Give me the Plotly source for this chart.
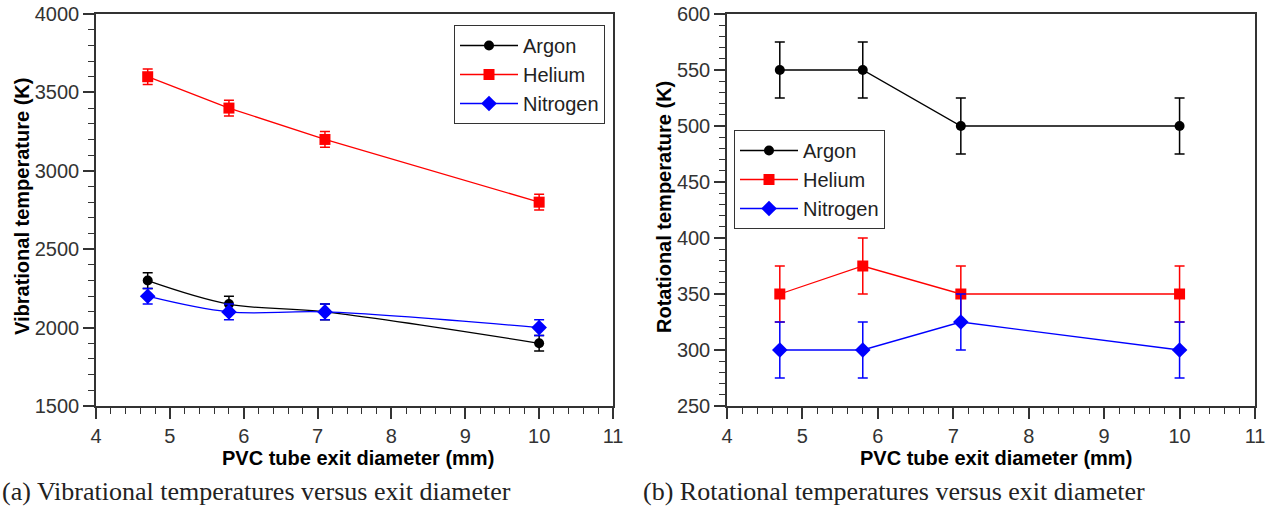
import plotly.graph_objects as go

W, H = 1273, 508

# ---- data ----
diam = [4.7, 5.8, 7.1, 10.0]
vib_argon = [2300, 2150, 2100, 1900]
vib_helium = [3600, 3400, 3200, 2800]
vib_nitrogen = [2200, 2100, 2100, 2000]
vib_err = [50, 50, 50, 50]

rot_argon = [550, 550, 500, 500]
rot_helium = [350, 375, 350, 350]
rot_nitrogen = [300, 300, 325, 300]
rot_err = [25, 25, 25, 25]

names = ["Argon", "Helium", "Nitrogen"]
colors = ["black", "red", "blue"]
symbols = ["circle", "square", "diamond"]
msizes = [10, 11, 12]

# plot areas in pixels
L = (96, 613)
R = (727, 1255)
TOP, BOT = 14, 406

def px(x):
    return x / W

def py(y):
    return (H - y) / H

fig = go.Figure()

vib = [vib_argon, vib_helium, vib_nitrogen]
vib_shape = ["spline", "linear", "spline"]
for i in range(3):
    fig.add_trace(go.Scatter(
        x=diam, y=vib[i], name=names[i], mode="lines+markers",
        line=dict(color=colors[i], width=1.3, shape=vib_shape[i]),
        marker=dict(color=colors[i], symbol=symbols[i], size=msizes[i]),
        error_y=dict(type="data", array=vib_err, color=colors[i], thickness=1.5, width=5),
        xaxis="x", yaxis="y", legend="legend",
    ))

rot = [rot_argon, rot_helium, rot_nitrogen]
for i in range(3):
    fig.add_trace(go.Scatter(
        x=diam, y=rot[i], name=names[i], mode="lines+markers",
        line=dict(color=colors[i], width=1.3),
        marker=dict(color=colors[i], symbol=symbols[i], size=msizes[i]),
        error_y=dict(type="data", array=rot_err, color=colors[i], thickness=1.5, width=5),
        xaxis="x2", yaxis="y2", legend="legend2",
    ))

sans = "Liberation Sans, Arial, sans-serif"
serif = "Liberation Serif, Times New Roman, serif"
tickfont = dict(family=sans, size=20, color="#333")

def xax(dom, anchor):
    return dict(
        domain=dom, anchor=anchor, range=[4, 11], dtick=1, tick0=4, automargin=False,
        ticks="outside", ticklen=11, tickwidth=1.5, tickcolor="#333",
        minor=dict(dtick=0.2, ticks="outside", ticklen=6, tickwidth=1.2, tickcolor="#333"),
        showline=True, linecolor="#333", linewidth=1.5, mirror=True,
        showgrid=False, zeroline=False, tickfont=tickfont,
    )

def yax(dom, anchor, rng, dt, mdt):
    return dict(
        domain=dom, anchor=anchor, range=rng, dtick=dt, tick0=rng[0], automargin=False,
        ticks="outside", ticklen=11, tickwidth=1.5, tickcolor="#333",
        minor=dict(dtick=mdt, ticks="outside", ticklen=6, tickwidth=1.2, tickcolor="#333"),
        showline=True, linecolor="#333", linewidth=1.5, mirror=True,
        showgrid=False, zeroline=False, tickfont=tickfont,
    )

ydom = [py(BOT), py(TOP)]
legfont = dict(family=sans, size=20, color="#222")

def ann(text, x, y, size, family, angle=0, xanchor="center", color="black"):
    return dict(text=text, x=px(x), y=py(y), xref="paper", yref="paper",
                xanchor=xanchor, yanchor="middle", showarrow=False, textangle=angle,
                font=dict(family=family, size=size, color=color))

annots = [
    ann("<b>PVC tube exit diameter (mm)</b>", 358, 458, 20, sans),
    ann("<b>PVC tube exit diameter (mm)</b>", 996, 458, 20, sans),
    ann("<b>Vibrational temperature (K)</b>", 22, 207, 20, sans, angle=-90),
    ann("<b>Rotational temperature (K)</b>", 664, 207, 20, sans, angle=-90),
    ann("(a) Vibrational temperatures versus exit diameter", 0, 491, 26, serif, xanchor="left", color="#222"),
    ann("(b) Rotational temperatures versus exit diameter", 641, 491, 26, serif, xanchor="left", color="#222"),
]

fig.update_layout(
    template="none",
    width=W, height=H, margin=dict(l=0, r=0, t=0, b=0, pad=0), autosize=False,
    paper_bgcolor="white", plot_bgcolor="white",
    xaxis=xax([px(L[0]), px(L[1])], "y"),
    yaxis=yax(ydom, "x", [1500, 4000], 500, 100),
    xaxis2=xax([px(R[0]), px(R[1])], "y2"),
    yaxis2=yax(ydom, "x2", [250, 600], 50, 10),
    legend=dict(x=px(605), y=py(25), xanchor="right", yanchor="top", bgcolor="white",
                bordercolor="#333", borderwidth=1, font=legfont, tracegroupgap=0,
                itemwidth=58),
    legend2=dict(x=px(734), y=py(130), xanchor="left", yanchor="top", bgcolor="white",
                 bordercolor="#333", borderwidth=1, font=legfont, tracegroupgap=0,
                 itemwidth=58),
    annotations=annots,
    showlegend=True,
)

fig.write_html("out.html")
